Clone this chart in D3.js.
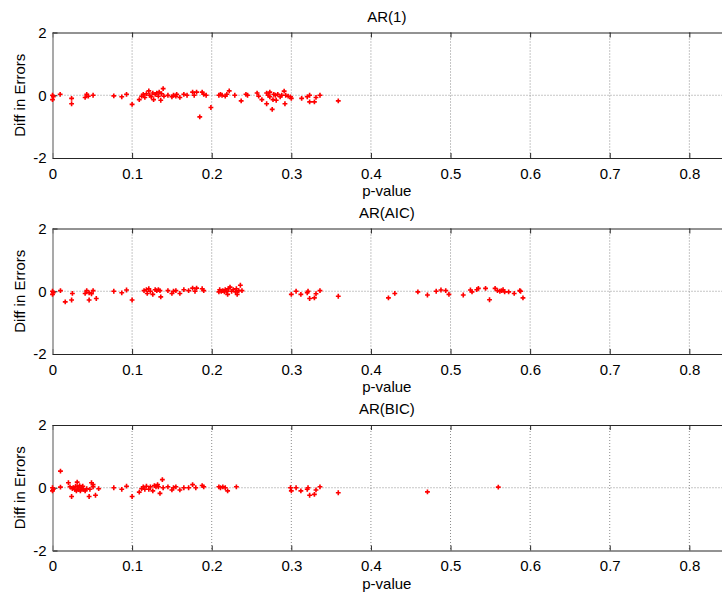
<!DOCTYPE html>
<html>
<head>
<meta charset="utf-8">
<script src="https://cdn.jsdelivr.net/npm/d3@7"></script>
<style>
  body { margin: 0; background: #fff; }
  svg { font-family: "Liberation Sans", Arial, sans-serif; }
</style>
</head>
<body>
<div id="chart"></div>
<script>
const titles = ["AR(1)", "AR(AIC)", "AR(BIC)"];
const xTicks = [0, 0.1, 0.2, 0.3, 0.4, 0.5, 0.6, 0.7, 0.8];
const xTickLabels = ["0", "0.1", "0.2", "0.3", "0.4", "0.5", "0.6", "0.7", "0.8"];
const yTicks = [-2, 0, 2];
const yTickLabels = ["-2", "0", "2"];

// AR(1)
const ar1P = [0, 0, 0.001, 0.0096, 0.024, 0.024, 0.041, 0.043, 0.045, 0.051, 0.077, 0.087, 0.093, 0.1, 0.109,
  0.112, 0.114, 0.116, 0.118, 0.121, 0.122, 0.124, 0.126, 0.127, 0.129, 0.131, 0.133, 0.134, 0.136, 0.137, 0.139, 0.140,
  0.145, 0.150, 0.152, 0.155, 0.156, 0.160, 0.165, 0.169, 0.176, 0.178, 0.181, 0.185, 0.188, 0.190, 0.193, 0.199,
  0.209, 0.211, 0.213, 0.217, 0.219, 0.222, 0.229, 0.237, 0.243, 0.245, 0.257, 0.259, 0.263,
  0.269, 0.271, 0.273, 0.273, 0.269, 0.276, 0.277, 0.278, 0.280, 0.281, 0.283, 0.286, 0.288, 0.291, 0.292, 0.293, 0.296, 0.299, 0.300,
  0.313, 0.320, 0.323, 0.323, 0.329, 0.331, 0.336, 0.359];
const ar1Diff = [0, -0.14, -0.05, 0.03, -0.1, -0.27, -0.07, 0.03, -0.03, 0, -0.02, -0.05, 0.03, -0.29, -0.14,
  -0.03, 0.03, -0.07, 0.05, 0.14, 0, -0.05, 0.07, -0.14, 0.03, 0.07, -0.03, 0.1, -0.16, 0.05, 0.21, -0.03,
  0, -0.05, 0, -0.03, 0.03, -0.07, 0.03, 0, 0.1, 0, 0.1, -0.69, 0.1, 0.03, 0, -0.39,
  0, 0.03, 0, -0.03, 0.03, 0.14, 0, -0.18, 0.03, 0, 0.07, -0.03, -0.14,
  0.07, 0, 0.1, -0.05, -0.27, -0.45, -0.14, 0.03, 0, -0.16, 0.03, -0.05, 0, 0.13, -0.27, 0, -0.03, -0.05, -0.1,
  -0.1, -0.05, 0, -0.21, -0.21, -0.07, 0, -0.18];

// AR(AIC)
const arAicP = [0, 0, 0.001, 0.01, 0.016, 0.024, 0.025, 0.041, 0.043, 0.046, 0.046, 0.049, 0.051, 0.055,
  0.077, 0.087, 0.093, 0.1,
  0.115, 0.118, 0.119, 0.121, 0.123, 0.126, 0.129, 0.131, 0.133, 0.135, 0.136,
  0.145, 0.150, 0.152, 0.155, 0.160, 0.165, 0.171, 0.176, 0.179, 0.181, 0.188, 0.190,
  0.209, 0.210, 0.212, 0.214, 0.216, 0.217, 0.219, 0.220, 0.221, 0.223, 0.225, 0.227, 0.230, 0.231, 0.232, 0.234, 0.236, 0.238,
  0.300, 0.306, 0.312, 0.320, 0.321, 0.323, 0.329, 0.331, 0.336, 0.359,
  0.422, 0.430, 0.459, 0.471, 0.482, 0.488, 0.494, 0.498, 0.516, 0.525, 0.527, 0.533, 0.535, 0.544, 0.549,
  0.556, 0.559, 0.562, 0.564, 0.566, 0.568, 0.573, 0.580, 0.587, 0.588, 0.591];
const arAicDiff = [0, -0.1, -0.05, 0.02, -0.34, -0.28, -0.07, -0.07, 0.02, -0.05, -0.28, -0.08, 0.02, -0.23,
  0, -0.05, 0.04, -0.28,
  0.02, 0.05, -0.07, 0.08, 0, -0.1, 0.05, 0.02, 0.05, 0.02, -0.18,
  0.02, -0.07, 0, 0.02, -0.07, 0.05, 0.02, 0.1, 0, 0.1, 0.08, 0.02,
  -0.02, 0.05, 0, 0.02, -0.02, 0.05, 0, -0.1, 0.08, 0.13, 0, 0.05, -0.02, 0.08, -0.1, 0.02, 0.19, 0.02,
  -0.1, 0, -0.1, -0.05, 0, -0.23, -0.21, -0.08, 0.02, -0.16,
  -0.21, -0.07, -0.02, -0.12, 0, 0.04, 0.02, -0.1, -0.12, 0.04, -0.02, 0.05, 0.09, 0.09, -0.27,
  0.09, 0.02, 0, 0.02, 0.05, -0.02, -0.02, -0.07, 0.02, 0, -0.21];

// AR(BIC)
const arBicP = [0, 0, 0.001, 0.010, 0.010, 0.020, 0.022, 0.024,
  0.025, 0.026, 0.028, 0.029, 0.030, 0.031, 0.031, 0.033, 0.034, 0.035, 0.036, 0.037, 0.038, 0.039, 0.041, 0.043,
  0.046, 0.047, 0.049, 0.051, 0.051, 0.054, 0.058,
  0.077, 0.087, 0.093, 0.1,
  0.109, 0.112, 0.114, 0.116, 0.118, 0.121, 0.123, 0.126, 0.128, 0.130, 0.132, 0.133, 0.135, 0.138, 0.139,
  0.145, 0.150, 0.152, 0.155, 0.160, 0.165, 0.171, 0.176, 0.180, 0.188, 0.190,
  0.209, 0.211, 0.214, 0.217, 0.220, 0.231,
  0.299, 0.300, 0.306, 0.312, 0.320, 0.321, 0.323, 0.329, 0.331, 0.336, 0.359,
  0.471, 0.560];
const arBicDiff = [0, -0.1, -0.05, 0.53, 0.02, 0.16, 0.03, -0.28,
  -0.03, 0, -0.05, 0.05, -0.1, 0.18, 0.03, -0.05, 0.07, -0.1, 0, -0.03, 0.05, -0.05, -0.1, -0.03,
  -0.28, -0.05, 0.16, 0.03, 0.1, -0.24, -0.03,
  0, -0.05, 0.05, -0.28,
  -0.14, -0.03, 0.03, -0.05, 0.05, -0.05, 0.03, -0.1, 0.07, 0.03, 0.1, 0.03, -0.18, 0.26, 0,
  0.03, -0.07, 0, 0.03, -0.07, 0, 0, 0.1, 0, 0.07, 0.03,
  0.03, 0, 0.03, 0, -0.1, 0.03,
  0, -0.1, 0, -0.1, -0.05, 0, -0.24, -0.21, -0.07, 0.03, -0.16,
  -0.13, 0.02];

const panels = [
  { title: titles[0], p: ar1P, diff: ar1Diff },
  { title: titles[1], p: arAicP, diff: arAicDiff },
  { title: titles[2], p: arBicP, diff: arBicDiff },
];

const rootWidth = 722;
const rootHeight = 598;
const left = 52.5;
// axes run past the right edge of the picture, as in the original figure
const plotWidth = 684.6;
const plotHeight = 125.5;
const visibleWidth = rootWidth - left;
const tops = [32.5, 228.5, 425];

const root = d3
  .select("#chart")
  .append("svg")
  .attr("width", rootWidth)
  .attr("height", rootHeight);

const xScale = d3.scaleLinear().domain([0, 0.86]).range([0, plotWidth]);
const yScale = d3.scaleLinear().domain([-2, 2]).range([plotHeight, 0]);
const marker = d3.symbol().type(d3.symbolCross).size(13);

panels.forEach((panel, i) => {
  const chart = root
    .append("g")
    .attr("transform", `translate(${left}, ${tops[i]})`);

  // dotted grid
  chart
    .append("g")
    .selectAll("line")
    .data(xTicks.slice(1))
    .join("line")
    .attr("x1", (d) => xScale(d))
    .attr("x2", (d) => xScale(d))
    .attr("y1", 0)
    .attr("y2", plotHeight)
    .attr("stroke", "#8c8c8c")
    .attr("stroke-dasharray", "1,2");
  chart
    .append("line")
    .attr("x1", 0)
    .attr("x2", visibleWidth)
    .attr("y1", yScale(0))
    .attr("y2", yScale(0))
    .attr("stroke", "#8c8c8c")
    .attr("stroke-dasharray", "1,2");

  // axes, ticks inward like MATLAB
  chart
    .append("g")
    .attr("transform", `translate(0, ${plotHeight})`)
    .call(
      d3.axisBottom(xScale)
        .tickValues(xTicks)
        .tickFormat((d, j) => xTickLabels[j])
        .tickSizeInner(-5)
        .tickSizeOuter(0)
        .tickPadding(10)
    );
  chart
    .append("g")
    .call(d3.axisTop(xScale).tickValues(xTicks).tickFormat("").tickSizeInner(-5).tickSizeOuter(0));
  const yAxis = chart
    .append("g")
    .call(
      d3.axisLeft(yScale)
        .tickValues(yTicks)
        .tickFormat((d, j) => yTickLabels[j])
        .tickSizeInner(-5)
        .tickSizeOuter(0)
        .tickPadding(6)
    );

  chart.selectAll(".domain, .tick line").attr("stroke", "#262626");
  yAxis.select(".domain").attr("stroke", "#8c8c8c").attr("stroke-width", 1.5);
  chart.selectAll(".tick text")
    .attr("font-size", 15)
    .attr("fill", "#000");

  // points
  chart
    .append("g")
    .selectAll("path")
    .data(panel.p.map((p, j) => [p, panel.diff[j]]))
    .join("path")
    .attr("d", marker)
    .attr("transform", (d) => `translate(${xScale(d[0])}, ${yScale(d[1])})`)
    .attr("fill", "#ff0000");

  chart
    .append("text")
    .attr("x", xScale(0.42))
    .attr("y", -11)
    .attr("text-anchor", "middle")
    .attr("font-size", 15)
    .text(panel.title);

  chart
    .append("text")
    .attr("x", xScale(0.42))
    .attr("y", plotHeight + 38)
    .attr("text-anchor", "middle")
    .attr("font-size", 15)
    .text("p-value");

  chart
    .append("text")
    .attr("transform", "rotate(-90)")
    .attr("x", -plotHeight / 2)
    .attr("y", -28)
    .attr("text-anchor", "middle")
    .attr("font-size", 15)
    .text("Diff in Errors");
});
</script>
</body>
</html>
